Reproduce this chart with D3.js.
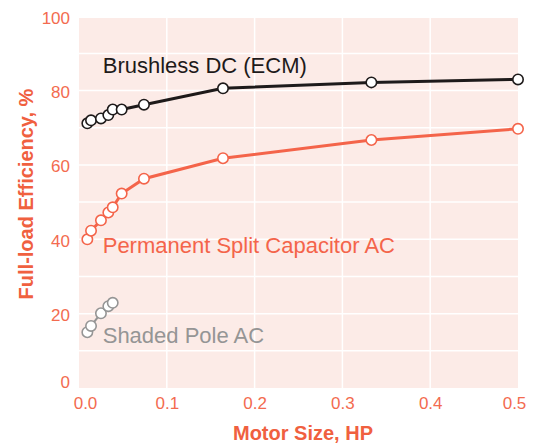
<!DOCTYPE html>
<html>
<head>
<meta charset="utf-8">
<script src="https://cdn.jsdelivr.net/npm/d3@7"></script>
<style>
  body { margin: 0; background: #fff; }
  svg { font-family: "Liberation Sans", Arial, sans-serif; }
</style>
</head>
<body>
<svg id="chart" width="541" height="444"></svg>
<script>
// motor sizes in HP
var sizes = [0.0095, 0.0137, 0.025, 0.0334, 0.0384, 0.0486, 0.074, 0.164, 0.333, 0.5];
var sizesSmall = [0.0095, 0.0137, 0.025, 0.0334, 0.0384];

var ecm = [71.2, 72.0, 72.5, 73.4, 74.9, 74.9, 76.2, 80.6, 82.2, 83.0];
var psc = [40.0, 42.3, 45.1, 47.2, 48.6, 52.3, 56.3, 61.8, 66.7, 69.7];
var shaded = [15.0, 16.7, 20.1, 22.0, 22.9];

var xTicks = [0.0, 0.1, 0.2, 0.3, 0.4, 0.5];
var yTicks = [0, 20, 40, 60, 80, 100];

var svg = d3.select("#chart");
var pLeft = 79, pRight = 518, pTop = 18, pBottom = 388;

var x = d3.scaleLinear().domain([0, 0.5]).range([pLeft, pRight]);
var y = d3.scaleLinear().domain([0, 100]).range([pBottom, 16.2]);

var salmon = "#f36b4f";

svg.append("rect")
  .attr("x", pLeft).attr("y", pTop)
  .attr("width", pRight - pLeft).attr("height", pBottom - pTop)
  .attr("fill", "#fcebe7");

// grid
svg.selectAll(".gy").data(d3.range(10, 100, 10)).enter().append("line")
  .attr("x1", pLeft).attr("x2", pRight)
  .attr("y1", function(d){ return y(d); }).attr("y2", function(d){ return y(d); })
  .attr("stroke", "#fff").attr("stroke-width", 1.5);
svg.selectAll(".gx").data([0.1, 0.2, 0.3, 0.4]).enter().append("line")
  .attr("y1", pTop).attr("y2", pBottom)
  .attr("x1", function(d){ return x(d); }).attr("x2", function(d){ return x(d); })
  .attr("stroke", "#fff").attr("stroke-width", 1.5);

// axes
var xAxis = d3.axisBottom(x).tickValues(xTicks).tickFormat(d3.format(".1f")).tickSize(0).tickPadding(9);
var yAxis = d3.axisLeft(y).tickValues(yTicks).tickSize(0).tickPadding(9);

var gx = svg.append("g").attr("transform", "translate(0," + pBottom + ")").call(xAxis);
var gy = svg.append("g").attr("transform", "translate(" + pLeft + ",0)").call(yAxis);
[gx, gy].forEach(function(g){
  g.select(".domain").remove();
  g.selectAll("text").attr("fill", salmon).style("font-size", "17px")
    .style("font-family", "'Liberation Sans', Arial, sans-serif");
});
// end labels pulled inwards like the original
gx.selectAll("text").attr("dx", function(d){ return d === 0 ? 6 : d === 0.5 ? -4 : 0; });
gy.selectAll("text").attr("dy", function(d){ return d === 0 ? "-0.05em" : "0.4em"; });

svg.append("text")
  .attr("x", 303).attr("y", 440)
  .attr("text-anchor", "middle")
  .attr("fill", "#f0603f")
  .style("font-size", "20px").style("font-weight", "bold")
  .text("Motor Size, HP");

svg.append("text")
  .attr("transform", "translate(33,194) rotate(-90)")
  .attr("text-anchor", "middle")
  .attr("fill", "#f0603f")
  .style("font-size", "20px").style("font-weight", "bold")
  .text("Full-load Efficiency, %");

var line = d3.line()
  .x(function(d){ return x(d[0]); })
  .y(function(d){ return y(d[1]); });

var series = [
  {xs: sizes, ys: ecm, color: "#1e1a1a", width: 3},
  {xs: sizes, ys: psc, color: "#f4644a", width: 3},
  {xs: sizesSmall, ys: shaded, color: "#959595", width: 2}
];

series.forEach(function(s){
  var pts = s.xs.map(function(v, i){ return [v, s.ys[i]]; });
  svg.append("path").datum(pts)
    .attr("d", line)
    .attr("fill", "none")
    .attr("stroke", s.color)
    .attr("stroke-width", s.width);
  svg.selectAll(null).data(pts).enter().append("circle")
    .attr("cx", function(d){ return x(d[0]); })
    .attr("cy", function(d){ return y(d[1]); })
    .attr("r", 5.2)
    .attr("fill", "#fff")
    .attr("stroke", s.color)
    .attr("stroke-width", 1.6);
});

var labels = [
  {text: "Brushless DC (ECM)", x: 0.027, y: 84.8, color: "#1e1a1a"},
  {text: "Permanent Split Capacitor AC", x: 0.027, y: 36.3, color: "#f4644a"},
  {text: "Shaded Pole AC", x: 0.027, y: 12.2, color: "#959595"}
];
svg.selectAll(".lbl").data(labels).enter().append("text")
  .attr("x", function(d){ return x(d.x); })
  .attr("y", function(d){ return y(d.y); })
  .attr("fill", function(d){ return d.color; })
  .style("font-size", "22px")
  .text(function(d){ return d.text; });
</script>
</body>
</html>
